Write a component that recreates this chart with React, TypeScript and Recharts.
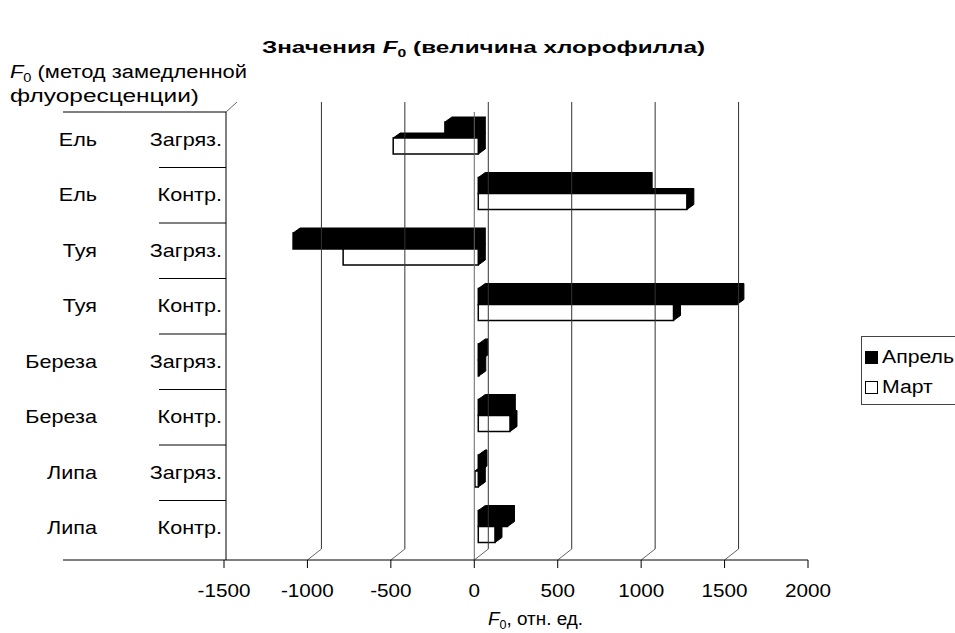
import React from "react";
import { BarChart, Bar, XAxis, YAxis, ReferenceLine, Legend } from "recharts";

// categories: species + condition (two-level axis)
const species = ["Ель", "Ель", "Туя", "Туя", "Береза", "Береза", "Липа", "Липа"];
const conditions = ["Загряз.", "Контр.", "Загряз.", "Контр.", "Загряз.", "Контр.", "Загряз.", "Контр."];
// F0 values, rel. units
const april = [-200, 1000, -1110, 1550, 15, 180, 10, 175];
const march = [-510, 1250, -810, 1170, 3, 190, -20, 100];
const xTicks = [-1500, -1000, -500, 0, 500, 1000, 1500, 2000];
const gridValues = [-1000, -500, 0, 500, 1000, 1500];

const data = species.map((s, i) => ({
  id: i,
  species: s,
  condition: conditions[i],
  april: april[i],
  march: march[i],
}));

const FONT = "'Liberation Sans', Arial, sans-serif";
const BAND = 55.5;
const AXIS_Y = 560;
const DEPTH_X = 14;
const DEPTH_Y = -11;
const STRETCH = 1.2;

// the source font is wider than Arial, so stretch labels a bit
function Wide({ x, y, anchor = "start", sx = STRETCH, size = 18, children, ...rest }: any) {
  return (
    <text
      transform={`translate(${x},${y}) scale(${sx},1)`}
      textAnchor={anchor}
      fontSize={size}
      fontFamily={FONT}
      fill="#000"
      {...rest}
    >
      {children}
    </text>
  );
}

function Bar3D(props: any) {
  const { x, y, width, height, fill } = props;
  if (x == null || y == null) return null;
  const w = Math.abs(width);
  const l = Math.min(x, x + width) + 4;
  const t = y - 2;
  const h = height;
  const r = l + w;
  const dx = 7;
  const dy = -5;
  const top = `M${l},${t} L${l + dx},${t + dy} L${r + dx},${t + dy} L${r},${t} Z`;
  const side = `M${r},${t} L${r + dx},${t + dy} L${r + dx},${t + h + dy} L${r},${t + h} Z`;
  return (
    <g>
      <path d={top} fill="#000" stroke="#000" strokeWidth={1} strokeLinejoin="round" />
      <path d={side} fill="#000" stroke="#000" strokeWidth={1} strokeLinejoin="round" />
      <rect x={l} y={t} width={w} height={h} fill={fill} stroke="#000" strokeWidth={1.5} />
    </g>
  );
}

function CatTick(props: any) {
  const { y, payload } = props;
  const i = payload.value as number;
  const d = data[i];
  return (
    <g>
      {i === 0 && <line x1={63} y1={y - BAND / 2} x2={226} y2={y - BAND / 2} stroke="#000" />}
      {i < data.length - 1 && <line x1={159} y1={y + BAND / 2} x2={226} y2={y + BAND / 2} stroke="#000" />}
      <Wide x={97} y={y + 6} anchor="end">
        {d.species}
      </Wide>
      <Wide x={222} y={y + 6} anchor="end">
        {d.condition}
      </Wide>
    </g>
  );
}

function ValTick(props: any) {
  const { x, payload } = props;
  const v = payload.value as number;
  const inner = v !== xTicks[0] && v !== xTicks[xTicks.length - 1];
  return (
    <g>
      <line x1={x} y1={AXIS_Y} x2={x} y2={AXIS_Y + 8} stroke="#000" />
      {inner && <line x1={x} y1={AXIS_Y} x2={x + DEPTH_X} y2={AXIS_Y + DEPTH_Y} stroke="#666" />}
      <Wide x={x} y={AXIS_Y + 37} anchor="middle" sx={1.15}>
        {v}
      </Wide>
    </g>
  );
}

function BackGrid(props: any) {
  const x = props.x1;
  if (x == null) return null;
  return <line x1={x + DEPTH_X} y1={102} x2={x + DEPTH_X} y2={AXIS_Y + DEPTH_Y} stroke="#333" strokeWidth={1} />;
}

function FrontZero(props: any) {
  const x = props.x1;
  if (x == null) return null;
  return <line x1={x} y1={112} x2={x} y2={AXIS_Y} stroke="#666" strokeWidth={1} />;
}

function LegendBox(props: any) {
  const items = props.payload || [];
  return (
    <div
      style={{
        border: "1px solid #444",
        width: 100,
        height: 69,
        padding: "5px 0 0 3px",
        fontFamily: FONT,
        fontSize: 18,
        background: "#fff",
        boxSizing: "border-box",
      }}
    >
      {items.map((it: any) => (
        <div key={it.value} style={{ display: "flex", alignItems: "center", height: 30 }}>
          <span
            style={{
              display: "inline-block",
              width: 11,
              height: 11,
              border: "1px solid #000",
              background: it.color,
              marginRight: 4,
              flexShrink: 0,
            }}
          />
          <span style={{ display: "inline-block", transform: "scaleX(1.18)", transformOrigin: "left center" }}>
            {it.value}
          </span>
        </div>
      ))}
    </div>
  );
}

export default function App() {
  return (
    <div style={{ position: "absolute", left: 0, top: 0, width: 955, height: 633, background: "#fff", overflow: "hidden" }}>
      <BarChart
        width={955}
        height={633}
        data={data}
        layout="vertical"
        barSize={16}
        barGap={0}
        margin={{ top: 112, right: 147, bottom: 47, left: 0 }}
      >
        <XAxis
          type="number"
          domain={[-1500, 2000]}
          ticks={xTicks}
          allowDataOverflow
          height={30}
          axisLine={false}
          tickLine={false}
          tick={<ValTick />}
          interval={0}
        />
        <YAxis
          type="category"
          dataKey="id"
          width={224}
          axisLine={false}
          tickLine={false}
          tick={<CatTick />}
          interval={0}
        />
        {gridValues.map((v) => (
          <ReferenceLine key={v} x={v} shape={<BackGrid />} />
        ))}
        <ReferenceLine x={0} shape={<FrontZero />} />
        <Legend
          layout="horizontal"
          verticalAlign="middle"
          align="center"
          content={<LegendBox />}
          wrapperStyle={{ position: "absolute", left: 861, top: 336, width: 100 }}
        />
        <Bar dataKey="april" name="Апрель" fill="#000" shape={<Bar3D />} isAnimationActive={false} />
        <Bar dataKey="march" name="Март" fill="#fff" shape={<Bar3D />} isAnimationActive={false} />
      </BarChart>
      <svg
        width={955}
        height={633}
        style={{ position: "absolute", left: 0, top: 0, pointerEvents: "none" }}
        fontFamily={FONT}
      >
        <text x={262} y={53} fontSize={17} fontWeight="bold" textLength={443} lengthAdjust="spacingAndGlyphs">
          Значения <tspan fontStyle="italic">F</tspan>
          <tspan fontSize={11} dy={4}>0</tspan>
          <tspan dy={-4}> (величина хлорофилла)</tspan>
        </text>
        <text x={10} y={78} fontSize={18} textLength={237} lengthAdjust="spacingAndGlyphs">
          <tspan fontStyle="italic">F</tspan>
          <tspan fontSize={12} dy={4}>0</tspan>
          <tspan dy={-4}> (метод замедленной</tspan>
        </text>
        <text x={10} y={102} fontSize={18} textLength={189} lengthAdjust="spacingAndGlyphs">
          флуоресценции)
        </text>
        <text x={488} y={625} fontSize={18} textLength={95} lengthAdjust="spacingAndGlyphs">
          <tspan fontStyle="italic">F</tspan>
          <tspan fontSize={12} dy={4}>0</tspan>
          <tspan dy={-4}>, отн. ед.</tspan>
        </text>
        {/* axis frame */}
        <line x1={63} y1={AXIS_Y} x2={808} y2={AXIS_Y} stroke="#000" />
        <line x1={226} y1={112} x2={226} y2={AXIS_Y} stroke="#000" />
        <line x1={226} y1={112} x2={237} y2={102} stroke="#666" />
      </svg>
    </div>
  );
}
